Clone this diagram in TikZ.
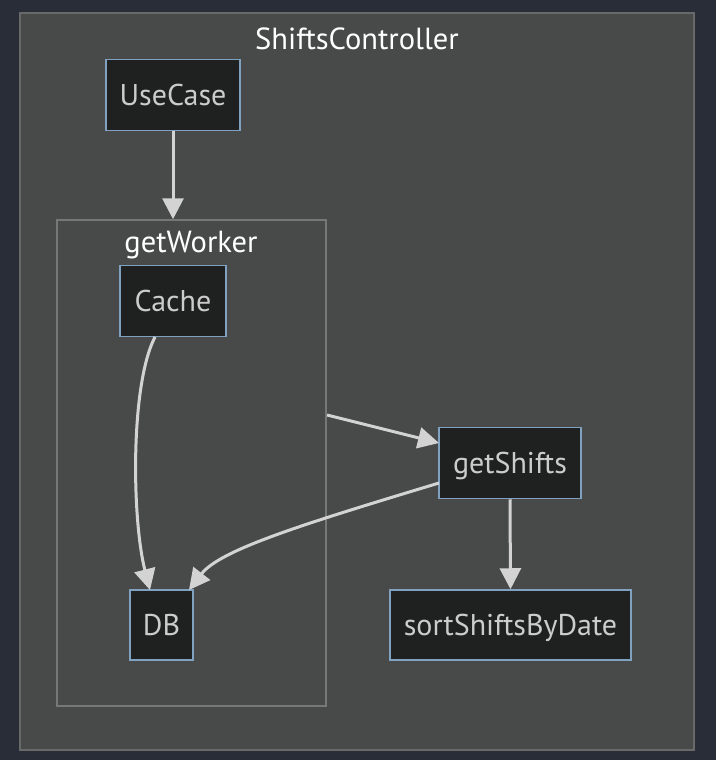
\documentclass[tikz,border=0pt]{standalone}
\usepackage{fontspec}
\setmainfont{PT Sans}
\usetikzlibrary{arrows.meta}
\definecolor{pagebg}{RGB}{41,45,56}
\definecolor{clusterfill}{RGB}{72,73,73}
\definecolor{clusterline}{RGB}{104,105,105}
\definecolor{innerline}{RGB}{118,119,119}
\definecolor{boxfill}{RGB}{31,32,32}
\definecolor{boxline}{RGB}{129,161,193}
\definecolor{boxtext}{RGB}{204,204,204}
\definecolor{edgecol}{RGB}{211,211,211}
\begin{document}
\begin{tikzpicture}[x=1pt,y=-1pt,
	box/.style={draw=boxline,fill=boxfill,line width=1.5pt,text=boxtext,
		minimum height=71pt,inner sep=0pt,text depth=0.12em,font=\fontsize{30}{36}\selectfont},
	clustertitle/.style={text=white,inner sep=0pt,font=\fontsize{30.5}{36}\selectfont},
	edge/.style={draw=edgecol,line width=3pt,-{Triangle[length=21pt,width=21pt]}}]
			%Canvas
			\useasboundingbox[fill=pagebg] (0,0) rectangle (716,760);
			%Outer cluster
			\draw[fill=clusterfill,draw=clusterline,line width=2pt] (20,13) rectangle (694,750);
			\node[clustertitle] (titleouter) at (357,39) {ShiftsController};
			%Inner cluster
			\node[draw=innerline,line width=1.5pt,minimum width=269pt,minimum height=486pt,inner sep=0pt] (worker) at (191.5,463) {};
			\node[clustertitle] (titleworker) at (191,245) {getWorker};
			%Nodes
			\node[box,minimum width=134pt] (usecase) at (173,95) {UseCase};
			\node[box,minimum width=106pt] (cache) at (173,301) {Cache};
			\node[box,minimum width=63pt,minimum height=70pt] (db) at (161.5,625) {DB};
			\node[box,minimum width=142pt] (getshifts) at (510,463) {getShifts};
			\node[box,minimum width=241pt,minimum height=70pt] (sortshifts) at (510.5,625) {sortShiftsByDate};
			%End points on the sides
			\coordinate (cacheout) at (155,337);
			\coordinate (dbinleft) at (150,590);
			\coordinate (dbinright) at (189,590);
			\coordinate (workerout) at (327,415);
			\coordinate (shiftsin) at (439,443);
			\coordinate (shiftsout) at (439,483);
			%Edges
			\draw[edge] (usecase.south) -- (usecase |- worker.north);
			\draw[edge] (cacheout) .. controls (130,385) and (132,520) .. (dbinleft);
			\draw[edge] (workerout) -- (shiftsin);
			\draw[edge] (shiftsout) .. controls (300,525) and (220,550) .. (dbinright);
			\draw[edge] (getshifts.south) -- (sortshifts.north);
\end{tikzpicture}
\end{document}
